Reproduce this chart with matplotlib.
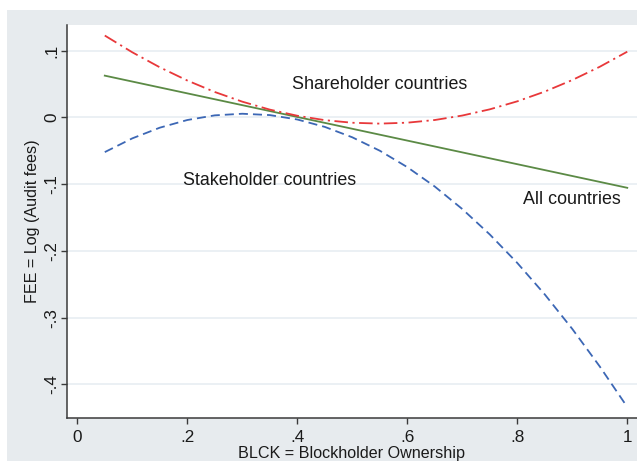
import matplotlib
matplotlib.use("Agg")
import matplotlib.pyplot as plt
from matplotlib.patches import Rectangle

plt.rcParams['font.family'] = ['Liberation Sans', 'DejaVu Sans']

# Predicted audit fees against blockholder ownership
blck = [0.05, 0.10, 0.15, 0.20, 0.25, 0.30, 0.35, 0.40, 0.45, 0.50,
        0.55, 0.60, 0.65, 0.70, 0.75, 0.80, 0.85, 0.90, 0.95, 1.00]
fee_shareholder = [0.1227, 0.0976, 0.0751, 0.0553, 0.0381, 0.0236, 0.0117, 0.0025,
                   -0.0041, -0.0080, -0.0093, -0.0079, -0.0039, 0.0028, 0.0121,
                   0.0241, 0.0387, 0.0560, 0.0759, 0.0985]
fee_stakeholder = [-0.0520, -0.0314, -0.0154, -0.0039, 0.0031, 0.0055, 0.0035, -0.0031,
                   -0.0142, -0.0298, -0.0499, -0.0745, -0.1036, -0.1373, -0.1754,
                   -0.2181, -0.2653, -0.3170, -0.3733, -0.4340]
blck_all = [0.05, 1.00]
fee_all = [0.0626, -0.1055]

x_ticks = [0, 0.2, 0.4, 0.6, 0.8, 1.0]
x_ticklabels = ["0", ".2", ".4", ".6", ".8", "1"]
y_ticks = [0.1, 0.0, -0.1, -0.2, -0.3, -0.4]
y_ticklabels = [".1", "0", "-.1", "-.2", "-.3", "-.4"]

W, H = 637, 461
fig = plt.figure(figsize=(W / 100, H / 100), dpi=100, facecolor="white")

# light graph-region backdrop
fig.patches.append(Rectangle((7 / W, 0), 1 - 7 / W, (H - 10) / H,
                             transform=fig.transFigure, facecolor="#e7ebee",
                             edgecolor="none", zorder=0))

ax = fig.add_axes([67 / W, (H - 418) / H, (W - 67) / W, (418 - 25) / H])
ax.set_facecolor("white")
ax.set_zorder(1)

ax.set_xlim(-0.0187, 1.0177)
ax.set_ylim(-0.4505, 0.1385)

for yt in y_ticks:
    ax.axhline(yt, color="#e6ecf1", lw=1.1, zorder=1)

ax.plot(blck_all, fee_all, color="#5b8a45", lw=1.3, zorder=3)
red, = ax.plot(blck, fee_shareholder, color="#e8383a", lw=1.3, zorder=4)
red.set_dashes([7.5, 2.5, 1.2, 2.5])
blue, = ax.plot(blck, fee_stakeholder, color="#3c67b5", lw=1.3, zorder=4)
blue.set_dashes([5, 2.8])

ax.text(0.55, 0.0486, "Shareholder countries", fontsize=12.9, ha="center",
        va="center", color="#1a1a1a", zorder=5)
ax.text(0.35, -0.094, "Stakeholder countries", fontsize=12.9, ha="center",
        va="center", color="#1a1a1a", zorder=5)
ax.text(0.899, -0.1225, "All countries", fontsize=12.9, ha="center",
        va="center", color="#1a1a1a", zorder=5)

for side in ("top", "right"):
    ax.spines[side].set_visible(False)
for side in ("left", "bottom"):
    ax.spines[side].set_color("#3a3a3a")
    ax.spines[side].set_linewidth(1.1)

ax.set_xticks(x_ticks)
ax.set_xticklabels(x_ticklabels)
ax.set_yticks(y_ticks)
ax.set_yticklabels(y_ticklabels, rotation=90, va="center")
ax.tick_params(axis="both", direction="out", length=4.3, width=1.0,
               color="#3a3a3a", labelsize=12.3, labelcolor="#1a1a1a")
ax.tick_params(axis="x", pad=4.5)
ax.tick_params(axis="y", pad=1.5)

fig.text((67 + W) / 2 / W, 3.5 / H, "BLCK = Blockholder Ownership",
         fontsize=11.6, ha="center", va="baseline", color="#1a1a1a")
fig.text(33 / W, 1 - 221 / H, "FEE = Log (Audit fees)", fontsize=11.6,
         rotation=90, ha="center", va="center", color="#1a1a1a")

fig.savefig("out.png", dpi=100, facecolor="white")
